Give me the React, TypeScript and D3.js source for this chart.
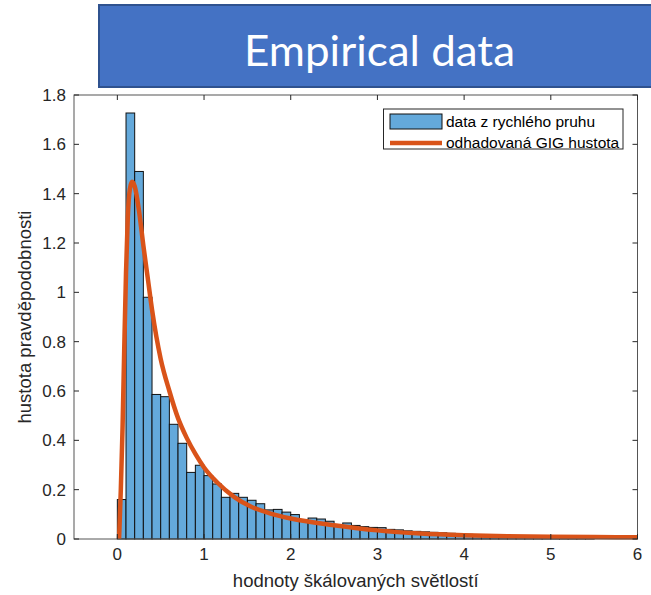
import React from 'react';
import * as d3 from 'd3';

const W = 651;
const H = 595;

// histogram: density per 0.1-wide bin starting at 0
const binWidth = 0.1;
const binDensity = [
  0.16, 1.727, 1.49, 0.98, 0.586, 0.577, 0.465, 0.388, 0.27, 0.299,
  0.257, 0.223, 0.169, 0.185, 0.169, 0.157, 0.143, 0.118, 0.12, 0.109,
  0.099, 0.077, 0.085, 0.081, 0.072, 0.057, 0.065, 0.055, 0.05, 0.047,
  0.046, 0.039, 0.037, 0.033, 0.031, 0.029, 0.027, 0.025, 0.023, 0.021,
  0.019, 0.017, 0.015, 0.013, 0.012, 0.011, 0.01, 0.009, 0.008, 0.007,
  0.007, 0.006, 0.006, 0.005, 0.005,
];

// fitted GIG density
const curveX = [0.02, 0.04, 0.06, 0.08, 0.1, 0.12, 0.145, 0.17, 0.2, 0.25, 0.3, 0.35, 0.4, 0.45, 0.5, 0.6, 0.7, 0.8, 0.9, 1.0, 1.15, 1.35, 1.55, 1.75, 2.0, 2.5, 3.0, 3.5, 4.0, 4.5, 5.0, 5.5, 6.0];
const curveY = [0.0, 0.2, 0.45, 0.78, 1.08, 1.3, 1.42, 1.448, 1.43, 1.33, 1.19, 1.06, 0.93, 0.82, 0.73, 0.6, 0.49, 0.41, 0.345, 0.29, 0.23, 0.17, 0.13, 0.105, 0.083, 0.056, 0.035, 0.022, 0.015, 0.011, 0.009, 0.008, 0.007];

const xTicks = [0, 1, 2, 3, 4, 5, 6];
const yTicks = [0, 0.2, 0.4, 0.6, 0.8, 1, 1.2, 1.4, 1.6, 1.8];

const legendLabels = ['data z rychlého pruhu', 'odhadovaná GIG hustota'];

const barFill = '#64A9DB';
const lineColor = '#D95319';
const axisColor = '#262626';
const font = '"Liberation Sans", Arial, sans-serif';

export default function App() {
  const x = d3.scaleLinear().domain([-0.5, 6]).range([74, 637.5]);
  const y = d3.scaleLinear().domain([0, 1.8]).range([539, 95]);

  const line = d3
    .line<number>()
    .x((_, i) => x(curveX[i]))
    .y((d) => y(d))
    .curve(d3.curveMonotoneX);

  const [left, right] = x.range();
  const [bottom, top] = y.range();
  const tick = 5;

  return (
    <svg width={W} height={H} style={{ position: 'absolute', left: 0, top: 0, background: '#fff' }}>
      {/* title banner */}
      <rect x={99} y={5} width={560} height={82} fill="#4472C4" stroke="#2F528F" strokeWidth={2} />
      <text
        x={379.5}
        y={66}
        textAnchor="middle"
        fill="#fff"
        fontFamily="Lato, 'Open Sans', sans-serif"
        fontSize={42}
        textLength={271}
        lengthAdjust="spacingAndGlyphs"
      >
        Empirical data
      </text>

      {/* bars */}
      <g>
        {binDensity.map((d, i) => (
          <rect
            key={i}
            x={x(i * binWidth)}
            y={y(d)}
            width={x((i + 1) * binWidth) - x(i * binWidth)}
            height={bottom - y(d)}
            fill={barFill}
            stroke="#111"
            strokeWidth={1}
          />
        ))}
      </g>

      {/* fitted curve */}
      <path d={line(curveY) ?? ''} fill="none" stroke={lineColor} strokeWidth={4.5} strokeLinejoin="round" />

      {/* axes box */}
      <rect x={left} y={top} width={right - left} height={bottom - top} fill="none" stroke="#555" strokeWidth={1} />
      {xTicks.map((t) => (
        <g key={'x' + t}>
          <line x1={x(t)} x2={x(t)} y1={bottom} y2={bottom - tick} stroke={axisColor} />
          <line x1={x(t)} x2={x(t)} y1={top} y2={top + tick} stroke={axisColor} />
          <text x={x(t)} y={560} textAnchor="middle" fontFamily={font} fontSize={17} fill={axisColor}>
            {t}
          </text>
        </g>
      ))}
      {yTicks.map((t) => (
        <g key={'y' + t}>
          <line x1={left} x2={left + tick} y1={y(t)} y2={y(t)} stroke={axisColor} />
          <line x1={right} x2={right - tick} y1={y(t)} y2={y(t)} stroke={axisColor} />
          <text x={66} y={y(t) + 6} textAnchor="end" fontFamily={font} fontSize={17} fill={axisColor}>
            {d3.format('~g')(t)}
          </text>
        </g>
      ))}

      <text x={(left + right) / 2} y={587} textAnchor="middle" fontFamily={font} fontSize={18.5} fill={axisColor}>
        hodnoty škálovaných světlostí
      </text>
      <text
        transform={`translate(31, ${(top + bottom) / 2}) rotate(-90)`}
        textAnchor="middle"
        fontFamily={font}
        fontSize={18.5}
        fill={axisColor}
      >
        hustota pravděpodobnosti
      </text>

      {/* legend */}
      <g>
        <rect x={383.5} y={109} width={239.5} height={40} fill="#fff" stroke={axisColor} strokeWidth={1} />
        <rect x={390} y={114} width={52} height={15} fill={barFill} stroke="#111" strokeWidth={1} />
        <line x1={390} x2={442} y1={143} y2={143} stroke={lineColor} strokeWidth={4.5} />
        <text x={446} y={127} fontFamily={font} fontSize={15.5} fill="#000">
          {legendLabels[0]}
        </text>
        <text x={446} y={148} fontFamily={font} fontSize={15.5} fill="#000">
          {legendLabels[1]}
        </text>
      </g>
    </svg>
  );
}
